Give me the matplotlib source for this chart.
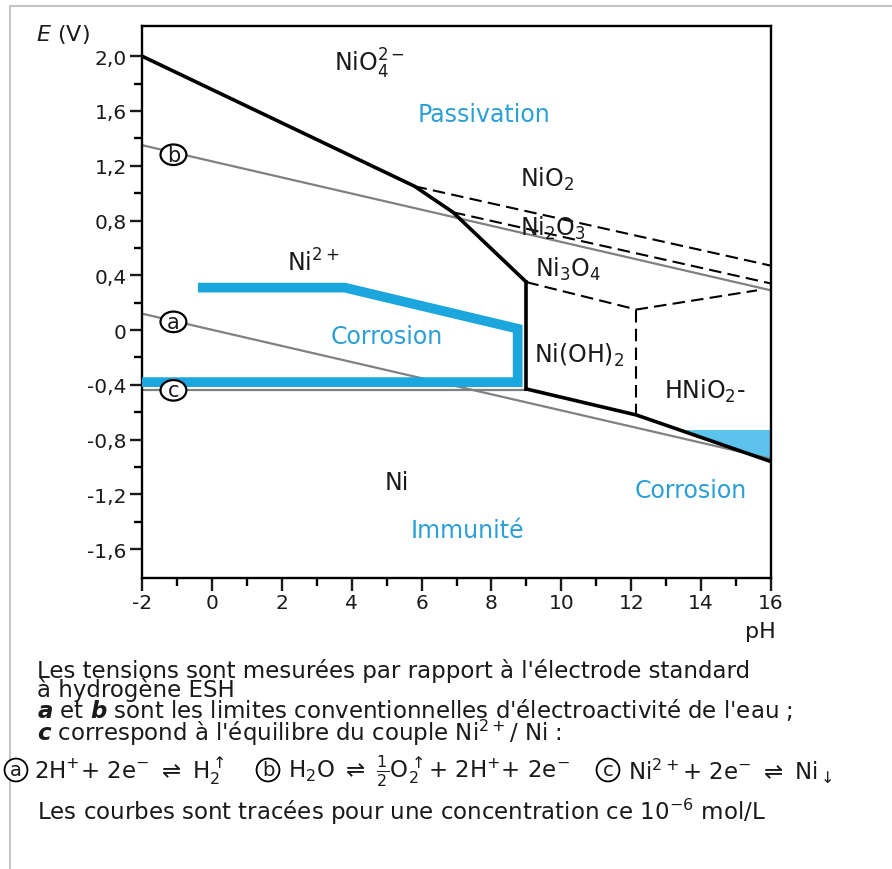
import numpy as np
import matplotlib
matplotlib.use("Agg")
import matplotlib.pyplot as plt
from matplotlib.mathtext import MathTextParser
from matplotlib.patches import Ellipse, Polygon, Rectangle

plt.rcParams["axes.unicode_minus"] = False

# ---------------- data (pH, E in V) ----------------
# solid domain boundaries
ph_upper = [-2, 5.8, 6.9, 9.0]
e_upper = [2.0, 1.05, 0.86, 0.35]
ph_ni_oh = [9.0, 9.0]
e_ni_oh = [0.35, -0.43]
ph_lower = [9.0, 12.15, 16.0]
e_lower = [-0.43, -0.62, -0.96]

# dashed boundaries between oxides
ph_nio2 = [5.8, 16.0]
e_nio2 = [1.05, 0.47]
ph_ni2o3 = [6.9, 16.0]
e_ni2o3 = [0.86, 0.34]
ph_ni3o4 = [9.0, 12.15, 15.6]
e_ni3o4 = [0.35, 0.15, 0.29]
ph_hnio2 = [12.15, 12.15]
e_hnio2 = [0.15, -0.62]

# water lines a, b and Ni2+/Ni line c
ph_water = [-2, 16]
e_a = [0.12, -0.94]
e_b = [1.35, 0.29]
ph_c = [-2, 9.0]
e_c = [-0.44, -0.44]

# corrosion zones (blue)
ph_corr = [-0.4, 3.8, 8.75, 8.75, -2]
e_corr = [0.31, 0.31, 0.01, -0.38, -0.38]
ph_fill = [13.4, 16.0, 16.0]
e_fill = [-0.73, -0.73, -0.96]

# region labels
lab_text = [r"NiO$_4^{2-}$", r"NiO$_2$", r"Ni$_2$O$_3$", r"Ni$_3$O$_4$", r"Ni$^{2+}$",
            r"Ni(OH)$_2$", r"HNiO$_2$-", "Ni"]
lab_ph = [4.5, 9.6, 9.75, 10.2, 2.9, 10.5, 14.1, 5.3]
lab_e = [1.95, 1.11, 0.75, 0.45, 0.50, -0.18, -0.44, -1.11]

zone_text = ["Passivation", "Corrosion", "Corrosion", "Immunité"]
zone_ph = [7.8, 5.0, 13.7, 7.3]
zone_e = [1.58, -0.04, -1.17, -1.46]

circ_text = ["b", "a", "c"]
circ_ph = [-1.1, -1.1, -1.1]
circ_e = [1.28, 0.06, -0.44]

xticks = list(range(-2, 17, 2))
yticks = [-1.6, -1.2, -0.8, -0.4, 0.0, 0.4, 0.8, 1.2, 1.6, 2.0]

BLUE = "#1ba6dd"
BLUE_TXT = "#2b9fd8"
GREY = "#808080"
INK = "#1a1a1a"

W, H = 892, 870
fig = plt.figure(figsize=(W / 100, H / 100), dpi=100)
ax = fig.add_axes([142 / W, 1 - 579 / H, 629 / W, 552 / H])
ax.set_xlim(-2, 16)
ax.set_ylim(-1.81, 2.22)

# water and c lines
ax.plot(ph_water, e_a, color=GREY, lw=1.6, zorder=2)
ax.plot(ph_water, e_b, color=GREY, lw=1.6, zorder=2)
ax.plot(ph_c, e_c, color=GREY, lw=1.6, zorder=2)

# corrosion zones
ax.add_patch(Polygon(list(zip(ph_fill, e_fill)), closed=True, fc="#5cc3ec", ec="none", zorder=1))
ax.plot(ph_corr, e_corr, color=BLUE, lw=7, solid_joinstyle="miter", solid_capstyle="butt", zorder=3)

# boundaries
for xs, ys in [(ph_upper, e_upper), (ph_ni_oh, e_ni_oh), (ph_lower, e_lower)]:
    ax.plot(xs, ys, color="black", lw=2.6, solid_joinstyle="miter", zorder=4)
for xs, ys in [(ph_nio2, e_nio2), (ph_ni2o3, e_ni2o3), (ph_ni3o4, e_ni3o4), (ph_hnio2, e_hnio2)]:
    ax.plot(xs, ys, color="black", lw=1.5, ls=(0, (6, 3)), zorder=4)

for s, x, y in zip(lab_text, lab_ph, lab_e):
    ax.text(x, y, s, ha="center", va="center", fontsize=17, color=INK, zorder=5)
for s, x, y in zip(zone_text, zone_ph, zone_e):
    ax.text(x, y, s, ha="center", va="center", fontsize=17, color=BLUE_TXT, zorder=5)
for s, x, y in zip(circ_text, circ_ph, circ_e):
    ax.add_patch(Ellipse((x, y), 0.74, 0.15, fc="white", ec="black", lw=1.6, zorder=6))
    ax.text(x, y, s, ha="center", va="center", fontsize=15, color=INK, zorder=7)

# axes styling
for sp in ax.spines.values():
    sp.set_linewidth(1.7)
ax.set_xticks(xticks)
ax.set_xticks(list(range(-1, 16, 2)), minor=True)
ax.set_yticks(yticks)
ax.set_yticks([-1.4, -1.0, -0.6, -0.2, 0.2, 0.6, 1.0, 1.4, 1.8], minor=True)
ax.set_yticklabels(["0" if v == 0 else ("%.1f" % v).replace(".", ",") for v in yticks])
ax.tick_params(which="major", length=9, width=1.7, labelsize=14.5, pad=2, colors=INK)
ax.tick_params(which="minor", length=6, width=1.7)

fig.text(36 / W, 1 - 35 / H, "$E$ (V)", fontsize=16, va="center", ha="left", color=INK)
fig.text(760 / W, 1 - 632 / H, "pH", fontsize=16, va="center", ha="center", color=INK)

# ---------------- caption ----------------
fs = 16.5

def bold_it(ch):
    try:
        MathTextParser("agg").parse(r"$\mathbfit{%s}$" % ch, dpi=100)
        return r"$\mathbfit{%s}$" % ch
    except Exception:
        return r"$\mathbf{%s}$" % ch

caption = ("Les tensions sont mesurées par rapport à l'électrode standard\n"
           "à hydrogène ESH\n"
           + bold_it("a") + " et " + bold_it("b")
           + " sont les limites conventionnelles d'électroactivité de l'eau ;\n"
           + bold_it("c") + r" correspond à l'équilibre du couple Ni$^{2+}$/ Ni :")
fig.text(37 / W, 1 - 659 / H, caption, fontsize=fs, va="top", ha="left",
         linespacing=0.76, color=INK)

circ = dict(boxstyle="circle,pad=0.1", fc="white", ec="black", lw=1.3)
for x, s in [(16, "a"), (268, "b"), (608, "c")]:
    fig.text(x / W, 1 - 771 / H, s, fontsize=14, ha="center", va="center", bbox=circ, color=INK)
fig.text(34 / W, 1 - 771 / H, r"2H$^{+}$+ 2e$^{-}$ $\rightleftharpoons$ H$_2^{\uparrow}$",
         fontsize=fs, va="center", ha="left", color=INK)
fig.text(288 / W, 1 - 771 / H,
         r"H$_2$O $\rightleftharpoons$ $\frac{1}{2}$O$_2^{\uparrow}$+ 2H$^{+}$+ 2e$^{-}$",
         fontsize=fs, va="center", ha="left", color=INK)
fig.text(628 / W, 1 - 771 / H, r"Ni$^{2+}$+ 2e$^{-}$ $\rightleftharpoons$ Ni$_{\downarrow}$",
         fontsize=fs, va="center", ha="left", color=INK)
fig.text(37 / W, 1 - 812 / H, r"Les courbes sont tracées pour une concentration ce 10$^{-6}$ mol/L",
         fontsize=fs, va="center", ha="left", color=INK)

# outer frame of the figure
fig.add_artist(Rectangle((10 / W, -0.01), 1.0, 1 - 7 / H + 0.01, transform=fig.transFigure,
                         fill=False, ec="#c4c4c4", lw=1.5))

fig.savefig("out.png", dpi=100)
